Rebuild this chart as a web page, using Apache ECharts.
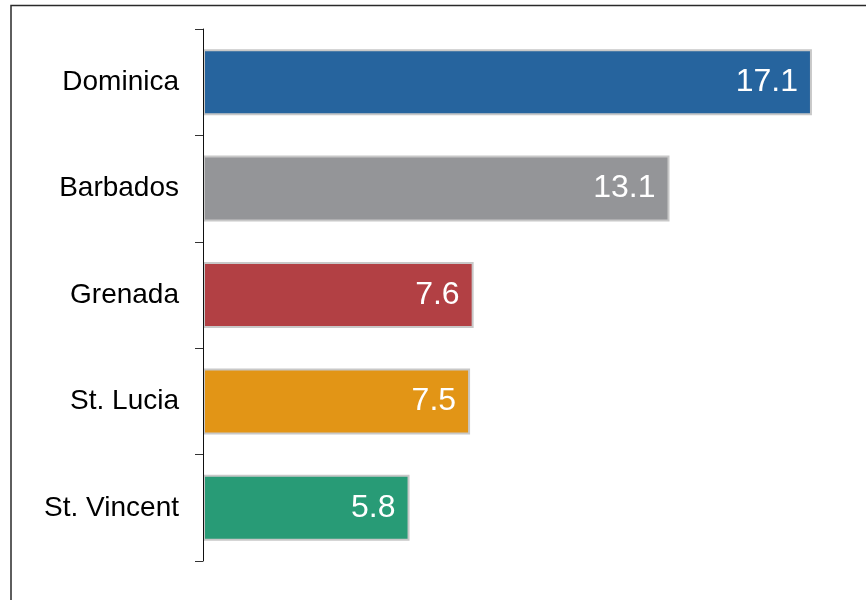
<!DOCTYPE html>
<html>
<head>
<meta charset="utf-8">
<script src="https://cdn.jsdelivr.net/npm/echarts@6/dist/echarts.min.js"></script>
<style>
  html, body { margin: 0; padding: 0; background: #ffffff; }
  #chart { width: 866px; height: 600px; }
</style>
</head>
<body>
<div id="chart"></div>
<script>
// Country values, top to bottom
const countries = ['Dominica', 'Barbados', 'Grenada', 'St. Lucia', 'St. Vincent'];
const values = [17.1, 13.1, 7.6, 7.5, 5.8];
const barColors = ['#26649e', '#949598', '#b24044', '#e29516', '#289b76'];

const chart = echarts.init(document.getElementById('chart'), null, { renderer: 'canvas' });

chart.setOption({
  backgroundColor: '#ffffff',
  animation: false,
  graphic: [{
    type: 'rect',
    shape: { x: 11, y: 5.5, width: 900, height: 700 },
    style: { fill: 'none', stroke: '#2a2a2a', lineWidth: 1.5 },
    z: 100
  }],
  grid: { left: 203, top: 29, height: 532, width: 641, containLabel: false },
  xAxis: {
    type: 'value',
    min: 0,
    max: 18,
    show: false
  },
  yAxis: {
    type: 'category',
    data: countries,
    inverse: true,
    axisLine: { show: true, lineStyle: { color: '#111', width: 1 } },
    axisTick: { show: true, inside: false, length: 8, alignWithLabel: false, lineStyle: { color: '#333', width: 1 } },
    axisLabel: {
      margin: 24,
      color: '#000',
      fontFamily: 'Liberation Sans, Arial, sans-serif',
      fontSize: 28
    },
    z: 10
  },
  series: [{
    type: 'bar',
    barWidth: 66,
    data: values.map((v, i) => ({
      value: v,
      itemStyle: { color: barColors[i] }
    })),
    itemStyle: { borderColor: '#c8c8c8', borderWidth: 2 },
    label: {
      show: true,
      position: 'insideRight',
      distance: 14,
      color: '#ffffff',
      fontFamily: 'Liberation Sans, Arial, sans-serif',
      fontSize: 32,
      formatter: p => p.value.toFixed(1)
    },
    z: 2
  }]
});
</script>
</body>
</html>
